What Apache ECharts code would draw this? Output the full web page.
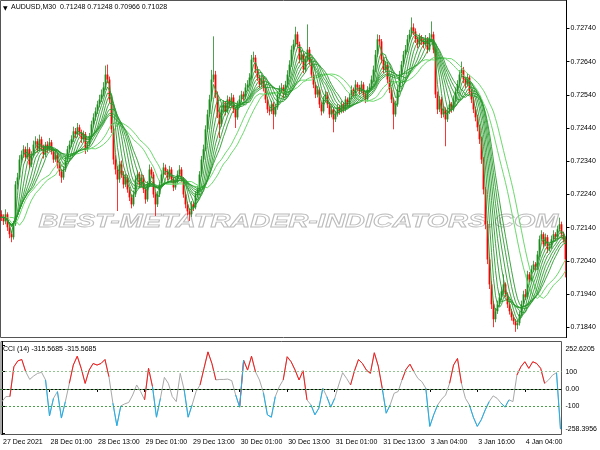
<!DOCTYPE html>
<html>
<head>
<meta charset="utf-8">
<script src="https://cdn.jsdelivr.net/npm/echarts@6/dist/echarts.min.js"></script>
<style>
  html, body { margin: 0; padding: 0; background: #fff; }
  #main { width: 600px; height: 450px; }
</style>
</head>
<body>
<div id="main"></div>
<script>
// AUDUSD M30, one entry per bar
const opens = [
  0.72180,0.72171,0.72159,0.72180,0.72141,0.72120,0.72111,0.72150,0.72270,0.72291,
  0.72345,0.72360,0.72376,0.72352,0.72376,0.72330,0.72360,0.72390,0.72400,0.72376,
  0.72406,0.72382,0.72360,0.72390,0.72376,0.72397,0.72370,0.72345,0.72360,0.72330,
  0.72309,0.72291,0.72315,0.72345,0.72376,0.72390,0.72406,0.72430,0.72421,0.72442,
  0.72427,0.72406,0.72421,0.72376,0.72390,0.72412,0.72451,0.72472,0.72490,0.72511,
  0.72526,0.72541,0.72562,0.72601,0.72586,0.72526,0.72436,0.72345,0.72315,0.72285,
  0.72330,0.72300,0.72270,0.72291,0.72255,0.72231,0.72210,0.72240,0.72285,0.72300,
  0.72270,0.72291,0.72255,0.72225,0.72270,0.72315,0.72300,0.72240,0.72210,0.72240,
  0.72270,0.72300,0.72321,0.72309,0.72291,0.72315,0.72285,0.72261,0.72279,0.72300,
  0.72315,0.72285,0.72240,0.72210,0.72189,0.72180,0.72210,0.72201,0.72240,0.72255,
  0.72300,0.72345,0.72376,0.72436,0.72481,0.72526,0.72586,0.72601,0.72541,0.72481,
  0.72451,0.72496,0.72511,0.72490,0.72526,0.72511,0.72532,0.72496,0.72472,0.72511,
  0.72526,0.72541,0.72532,0.72562,0.72571,0.72592,0.72646,0.72652,0.72616,0.72592,
  0.72571,0.72586,0.72562,0.72526,0.72496,0.72490,0.72511,0.72481,0.72502,0.72541,
  0.72556,0.72562,0.72541,0.72571,0.72601,0.72631,0.72676,0.72692,0.72722,0.72692,
  0.72646,0.72661,0.72616,0.72646,0.72676,0.72640,0.72601,0.72571,0.72541,0.72556,
  0.72511,0.72490,0.72526,0.72541,0.72511,0.72481,0.72496,0.72466,0.72481,0.72502,
  0.72490,0.72511,0.72496,0.72526,0.72511,0.72532,0.72556,0.72541,0.72571,0.72562,
  0.72550,0.72571,0.72541,0.72526,0.72556,0.72562,0.72586,0.72616,0.72661,0.72707,
  0.72701,0.72646,0.72616,0.72631,0.72586,0.72556,0.72526,0.72481,0.72511,0.72556,
  0.72601,0.72631,0.72661,0.72676,0.72707,0.72722,0.72743,0.72731,0.72707,0.72692,
  0.72713,0.72701,0.72692,0.72707,0.72676,0.72713,0.72722,0.72676,0.72541,0.72496,
  0.72526,0.72481,0.72496,0.72466,0.72490,0.72511,0.72496,0.72526,0.72550,0.72571,
  0.72601,0.72616,0.72586,0.72571,0.72592,0.72550,0.72526,0.72496,0.72472,0.72442,
  0.72406,0.72345,0.72255,0.72150,0.72044,0.71969,0.71909,0.71864,0.71888,0.71909,
  0.71930,0.71948,0.71969,0.71939,0.71909,0.71888,0.71870,0.71858,0.71846,0.71852,
  0.71879,0.71909,0.71939,0.71930,0.71999,0.71984,0.72014,0.72029,0.72020,0.72059,
  0.72105,0.72120,0.72090,0.72111,0.72075,0.72081,0.72105,0.72120,0.72111,0.72135,
  0.72150,0.72120,0.72105
];
const closes = [
  0.72171,0.72159,0.72180,0.72141,0.72120,0.72111,0.72150,0.72270,0.72291,0.72345,
  0.72360,0.72376,0.72352,0.72376,0.72330,0.72360,0.72390,0.72400,0.72376,0.72406,
  0.72382,0.72360,0.72390,0.72376,0.72397,0.72370,0.72345,0.72360,0.72330,0.72309,
  0.72291,0.72315,0.72345,0.72376,0.72390,0.72406,0.72430,0.72421,0.72442,0.72427,
  0.72406,0.72421,0.72376,0.72390,0.72412,0.72451,0.72472,0.72490,0.72511,0.72526,
  0.72541,0.72562,0.72601,0.72586,0.72526,0.72436,0.72345,0.72315,0.72285,0.72330,
  0.72300,0.72270,0.72291,0.72255,0.72231,0.72210,0.72240,0.72285,0.72300,0.72270,
  0.72291,0.72255,0.72225,0.72270,0.72315,0.72300,0.72240,0.72210,0.72240,0.72270,
  0.72300,0.72321,0.72309,0.72291,0.72315,0.72285,0.72261,0.72279,0.72300,0.72315,
  0.72285,0.72240,0.72210,0.72189,0.72180,0.72210,0.72201,0.72240,0.72255,0.72300,
  0.72345,0.72376,0.72436,0.72481,0.72526,0.72586,0.72601,0.72541,0.72481,0.72451,
  0.72496,0.72511,0.72490,0.72526,0.72511,0.72532,0.72496,0.72472,0.72511,0.72526,
  0.72541,0.72532,0.72562,0.72571,0.72592,0.72646,0.72652,0.72616,0.72592,0.72571,
  0.72586,0.72562,0.72526,0.72496,0.72490,0.72511,0.72481,0.72502,0.72541,0.72556,
  0.72562,0.72541,0.72571,0.72601,0.72631,0.72676,0.72692,0.72722,0.72692,0.72646,
  0.72661,0.72616,0.72646,0.72676,0.72640,0.72601,0.72571,0.72541,0.72556,0.72511,
  0.72490,0.72526,0.72541,0.72511,0.72481,0.72496,0.72466,0.72481,0.72502,0.72490,
  0.72511,0.72496,0.72526,0.72511,0.72532,0.72556,0.72541,0.72571,0.72562,0.72550,
  0.72571,0.72541,0.72526,0.72556,0.72562,0.72586,0.72616,0.72661,0.72707,0.72701,
  0.72646,0.72616,0.72631,0.72586,0.72556,0.72526,0.72481,0.72511,0.72556,0.72601,
  0.72631,0.72661,0.72676,0.72707,0.72722,0.72743,0.72731,0.72707,0.72692,0.72713,
  0.72701,0.72692,0.72707,0.72676,0.72713,0.72722,0.72676,0.72541,0.72496,0.72526,
  0.72481,0.72496,0.72466,0.72490,0.72511,0.72496,0.72526,0.72550,0.72571,0.72601,
  0.72616,0.72586,0.72571,0.72592,0.72550,0.72526,0.72496,0.72472,0.72442,0.72406,
  0.72345,0.72255,0.72150,0.72044,0.71969,0.71909,0.71864,0.71888,0.71909,0.71930,
  0.71948,0.71969,0.71939,0.71909,0.71888,0.71870,0.71858,0.71846,0.71852,0.71879,
  0.71909,0.71939,0.71930,0.71999,0.71984,0.72014,0.72029,0.72020,0.72059,0.72105,
  0.72120,0.72090,0.72111,0.72075,0.72081,0.72105,0.72120,0.72111,0.72135,0.72150,
  0.72120,0.72105,0.72044
];
const highs = [
  0.72192,0.72180,0.72195,0.72186,0.72150,0.72128,0.72160,0.72280,0.72305,0.72358,
  0.72372,0.72388,0.72384,0.72395,0.72382,0.72370,0.72402,0.72415,0.72408,0.72420,
  0.72414,0.72390,0.72398,0.72400,0.72410,0.72404,0.72378,0.72372,0.72366,0.72338,
  0.72316,0.72325,0.72355,0.72386,0.72402,0.72418,0.72444,0.72440,0.72455,0.72450,
  0.72435,0.72432,0.72428,0.72400,0.72425,0.72462,0.72484,0.72502,0.72522,0.72540,
  0.72556,0.72578,0.72628,0.72631,0.72595,0.72535,0.72445,0.72358,0.72325,0.72340,
  0.72342,0.72310,0.72302,0.72298,0.72262,0.72240,0.72252,0.72296,0.72312,0.72308,
  0.72302,0.72298,0.72262,0.72280,0.72330,0.72322,0.72308,0.72248,0.72250,0.72282,
  0.72312,0.72335,0.72330,0.72316,0.72326,0.72322,0.72292,0.72290,0.72312,0.72328,
  0.72322,0.72292,0.72248,0.72218,0.72198,0.72220,0.72218,0.72250,0.72266,0.72310,
  0.72356,0.72390,0.72448,0.72495,0.72540,0.72615,0.72716,0.72612,0.72550,0.72490,
  0.72508,0.72524,0.72520,0.72538,0.72534,0.72545,0.72540,0.72502,0.72522,0.72538,
  0.72552,0.72550,0.72575,0.72584,0.72605,0.72660,0.72670,0.72660,0.72625,0.72600,
  0.72598,0.72594,0.72570,0.72534,0.72505,0.72522,0.72518,0.72512,0.72552,0.72568,
  0.72575,0.72570,0.72582,0.72614,0.72644,0.72688,0.72706,0.72745,0.72730,0.72700,
  0.72672,0.72668,0.72656,0.72752,0.72684,0.72648,0.72608,0.72578,0.72566,0.72562,
  0.72518,0.72536,0.72552,0.72548,0.72518,0.72506,0.72502,0.72492,0.72512,0.72510,
  0.72522,0.72518,0.72536,0.72532,0.72544,0.72568,0.72562,0.72584,0.72578,0.72570,
  0.72582,0.72578,0.72548,0.72566,0.72574,0.72598,0.72628,0.72675,0.72722,0.72720,
  0.72708,0.72654,0.72642,0.72638,0.72594,0.72562,0.72532,0.72522,0.72566,0.72612,
  0.72642,0.72672,0.72690,0.72720,0.72736,0.72773,0.72755,0.72740,0.72716,0.72725,
  0.72720,0.72710,0.72720,0.72714,0.72726,0.72761,0.72730,0.72682,0.72550,0.72536,
  0.72534,0.72508,0.72502,0.72500,0.72522,0.72518,0.72538,0.72562,0.72584,0.72614,
  0.72640,0.72624,0.72594,0.72604,0.72600,0.72558,0.72534,0.72504,0.72480,0.72450,
  0.72414,0.72352,0.72262,0.72160,0.72052,0.71978,0.71918,0.71898,0.71920,0.71942,
  0.71960,0.71999,0.71975,0.71945,0.71915,0.71895,0.71878,0.71865,0.71862,0.71888,
  0.71920,0.71950,0.71955,0.72010,0.72006,0.72026,0.72040,0.72036,0.72070,0.72116,
  0.72132,0.72126,0.72122,0.72118,0.72092,0.72116,0.72132,0.72126,0.72146,0.72170,
  0.72158,0.72128,0.72112
];
const lows = [
  0.72160,0.72148,0.72150,0.72130,0.72108,0.72096,0.72104,0.72145,0.72255,0.72285,
  0.72333,0.72350,0.72340,0.72345,0.72318,0.72322,0.72352,0.72380,0.72366,0.72370,
  0.72372,0.72348,0.72352,0.72365,0.72370,0.72360,0.72335,0.72338,0.72318,0.72296,
  0.72275,0.72284,0.72308,0.72338,0.72366,0.72382,0.72398,0.72410,0.72412,0.72415,
  0.72395,0.72398,0.72362,0.72368,0.72384,0.72405,0.72442,0.72462,0.72482,0.72502,
  0.72518,0.72535,0.72555,0.72575,0.72515,0.72425,0.72330,0.72300,0.72190,0.72275,
  0.72290,0.72258,0.72262,0.72245,0.72220,0.72198,0.72204,0.72232,0.72278,0.72260,
  0.72262,0.72244,0.72212,0.72218,0.72262,0.72290,0.72230,0.72175,0.72202,0.72232,
  0.72262,0.72292,0.72298,0.72282,0.72285,0.72276,0.72250,0.72254,0.72272,0.72294,
  0.72276,0.72230,0.72198,0.72176,0.72160,0.72172,0.72190,0.72195,0.72232,0.72248,
  0.72294,0.72338,0.72370,0.72428,0.72474,0.72520,0.72578,0.72530,0.72470,0.72410,
  0.72444,0.72486,0.72478,0.72484,0.72500,0.72505,0.72485,0.72440,0.72465,0.72505,
  0.72518,0.72522,0.72526,0.72552,0.72565,0.72585,0.72638,0.72605,0.72582,0.72560,
  0.72562,0.72550,0.72515,0.72485,0.72478,0.72482,0.72436,0.72474,0.72495,0.72534,
  0.72545,0.72530,0.72535,0.72562,0.72594,0.72624,0.72668,0.72685,0.72682,0.72635,
  0.72638,0.72605,0.72608,0.72640,0.72630,0.72590,0.72560,0.72530,0.72532,0.72500,
  0.72478,0.72484,0.72518,0.72500,0.72470,0.72472,0.72427,0.72458,0.72474,0.72480,
  0.72484,0.72486,0.72490,0.72502,0.72505,0.72526,0.72532,0.72535,0.72552,0.72540,
  0.72544,0.72532,0.72515,0.72520,0.72548,0.72555,0.72578,0.72608,0.72654,0.72690,
  0.72635,0.72605,0.72608,0.72575,0.72545,0.72515,0.72436,0.72474,0.72504,0.72548,
  0.72594,0.72624,0.72652,0.72668,0.72700,0.72715,0.72720,0.72696,0.72680,0.72685,
  0.72690,0.72680,0.72685,0.72665,0.72670,0.72705,0.72665,0.72530,0.72482,0.72488,
  0.72470,0.72472,0.72385,0.72458,0.72482,0.72486,0.72490,0.72518,0.72544,0.72564,
  0.72594,0.72575,0.72560,0.72565,0.72540,0.72515,0.72485,0.72460,0.72430,0.72392,
  0.72332,0.72240,0.72135,0.72030,0.71955,0.71895,0.71840,0.71855,0.71880,0.71902,
  0.71922,0.71940,0.71930,0.71898,0.71878,0.71860,0.71848,0.71826,0.71834,0.71845,
  0.71872,0.71902,0.71922,0.71925,0.71975,0.71978,0.72006,0.72010,0.72012,0.72050,
  0.72098,0.72080,0.72084,0.72064,0.72068,0.72076,0.72098,0.72100,0.72104,0.72128,
  0.72110,0.72095,0.71990
];

const cciStep = 2;
const cciValues = [
  -73, -44, -44, 128, 162, 170, 99, 55, 75, 90,
  96, 52, -155, -54, -15, -168, -73, 32, 138, 189,
  119, 32, 109, 147, 138, 147, 170, 71, -82, -212,
  -98, -86, -78, -35, 23, -15, -63, 119, 13, -163,
  -54, 67, 32, -44, -73, 90, -6, -163, -92, -15,
  23, 119, 214, 147, 52, 55, 55, 57, 48, -35,
  -105, 166, 109, 189, 99, 52, -21, -149, -163, -44,
  13, 52, 186, 157, 109, 52, 105, -63, -92, -149,
  -111, 4, -44, -105, -54, 23, 94, 61, 23, 105,
  170, 147, 109, 90, 209, 132, 4, -140, -92, -25,
  -15, 52, 113, 143, 99, 61, 42, 4, -216, -149,
  -92, -59, -35, 32, 138, 176, 32, -54, -92, -163,
  -216, -178, -121, -73, -40, -54, -82, -105, -63, -73,
  80, 128, 157, 119, 157, 147, 119, 32, 52, 80,
  94, -232
];

const priceTicks = [0.71840, 0.71940, 0.72040, 0.72140, 0.72240, 0.72340, 0.72440, 0.72540, 0.72640, 0.72740];
const cciTicks = [252.6205, 100, 0, -100, -258.3956];
const cciTickTexts = ['252.6205', '100', '0.00', '-100', '-258.3956'];
const labelBars = [0, 24, 48, 72, 96, 120, 144, 168, 192, 216, 240, 264];
const labelTexts = ['27 Dec 2021', '28 Dec 01:00', '28 Dec 13:00', '29 Dec 01:00', '29 Dec 13:00',
  '30 Dec 01:00', '30 Dec 13:00', '31 Dec 01:00', '31 Dec 13:00', '3 Jan 04:00', '3 Jan 16:00', '4 Jan 04:00'];

// moving-average ribbon periods
const fastPeriods = [3, 5, 7, 9, 11, 13, 15, 17];
const slowPeriod = 24;
const slowShifts = [1, 4];

const BULL = '#1f8a1f';
const BEAR = '#ff0000';
const FONT = '"Liberation Sans", Arial, sans-serif';
const N = closes.length;

function sma(src, n) {
  return src.map((_, i) => {
    const from = Math.max(0, i - n + 1);
    let s = 0;
    for (let j = from; j <= i; j++) s += src[j];
    return +(s / (i - from + 1)).toFixed(6);
  });
}
function shift(arr, s) {
  return arr.map((_, i) => (i - s >= 0 ? arr[i - s] : null));
}

const cats = closes.map((_, i) => i);
const bars = closes.map((c, i) => [i, opens[i], c, lows[i], highs[i]]);

const cciPts = cciValues.map((v, k) => [k * cciStep, v]);
function colored(test) {
  const out = [];
  for (let k = 0; k < cciPts.length - 1; k++) {
    const a = cciPts[k], b = cciPts[k + 1];
    if (test(a[1]) || test(b[1])) out.push(a, b, [b[0], null]);
  }
  return out;
}

const maSeries = [];
slowShifts.forEach(s => {
  maSeries.push({
    type: 'line', xAxisIndex: 0, yAxisIndex: 0, data: shift(sma(closes, slowPeriod), s),
    showSymbol: false, silent: true, z: 3, lineStyle: { width: 1, color: '#6ad96a' }
  });
});
fastPeriods.forEach(p => {
  maSeries.push({
    type: 'line', xAxisIndex: 0, yAxisIndex: 0, data: sma(closes, p),
    showSymbol: false, silent: true, z: 4, lineStyle: { width: 0.9, color: '#27992a' }
  });
});

function renderCandle(params, api) {
  const i = api.value(0);
  const o = api.value(1), c = api.value(2), l = api.value(3), h = api.value(4);
  const pO = api.coord([i, o]), pC = api.coord([i, c]);
  const pL = api.coord([i, l]), pH = api.coord([i, h]);
  const x = pO[0];
  const col = c >= o ? BULL : BEAR;
  const top = Math.min(pO[1], pC[1]);
  const bot = Math.max(pO[1], pC[1]);
  return {
    type: 'group',
    children: [
      { type: 'line', shape: { x1: x, y1: pH[1], x2: x, y2: pL[1] }, style: { stroke: col, lineWidth: 0.8 } },
      { type: 'rect', shape: { x: x - 0.9, y: top, width: 1.8, height: Math.max(1, bot - top) }, style: { fill: col } }
    ]
  };
}

const chart = echarts.init(document.getElementById('main'));
chart.setOption({
  animation: false,
  backgroundColor: '#ffffff',
  textStyle: { fontFamily: FONT },
  grid: [
    { left: 0.5, top: 0.5, width: 566, height: 337, show: true, borderColor: '#555', borderWidth: 1 },
    { left: 0.5, top: 341.5, width: 566, height: 93, show: true, borderColor: '#555', borderWidth: 1 }
  ],
  xAxis: [
    {
      type: 'category', gridIndex: 0, data: cats, boundaryGap: true,
      axisLine: { show: false }, axisTick: { show: false }, axisLabel: { show: false }, splitLine: { show: false }
    },
    {
      type: 'value', gridIndex: 1, min: -0.5, max: N - 0.5,
      axisLine: { show: true, lineStyle: { color: '#000', width: 1 } },
      axisTick: { show: true, customValues: labelBars, length: 3, lineStyle: { color: '#000' } },
      axisLabel: {
        customValues: labelBars, fontSize: 7, color: '#000', align: 'left', margin: 4,
        padding: [0, 0, 0, 1], fontFamily: FONT,
        formatter: v => labelTexts[labelBars.indexOf(v)]
      },
      splitLine: { show: false }
    }
  ],
  yAxis: [
    {
      type: 'value', gridIndex: 0, position: 'right', min: 0.71809, max: 0.72824,
      axisLine: { show: true, lineStyle: { color: '#000' } },
      axisTick: { show: true, customValues: priceTicks, length: 3, lineStyle: { color: '#000' } },
      axisLabel: { customValues: priceTicks, fontSize: 7, color: '#000', margin: 4, fontFamily: FONT,
        formatter: v => v.toFixed(5) },
      splitLine: { show: false }
    },
    {
      type: 'value', gridIndex: 1, position: 'right', min: -263, max: 274,
      axisLine: { show: true, lineStyle: { color: '#000' } },
      axisTick: { show: true, customValues: cciTicks, length: 3, lineStyle: { color: '#000' } },
      axisLabel: {
        customValues: cciTicks, fontSize: 7, color: '#000', margin: 4, fontFamily: FONT,
        formatter: v => {
          const t = cciTickTexts[cciTicks.indexOf(v)];
          if (v === cciTicks[0]) return '{top|' + t + '}';
          if (v === cciTicks[4]) return '{bot|' + t + '}';
          return t;
        },
        rich: {
          top: { fontSize: 7, color: '#000', fontFamily: FONT, padding: [8, 0, 0, 0] },
          bot: { fontSize: 7, color: '#000', fontFamily: FONT, padding: [0, 0, 10, 0] }
        }
      },
      splitLine: { show: false }
    }
  ],
  graphic: [
    {
      type: 'text', left: 38, top: 213, z: 0, silent: true,
      style: {
        text: 'BEST-METATRADER-INDICATORS.COM',
        font: 'italic bold 18px "Liberation Sans", sans-serif',
        fill: 'rgba(255,255,255,0)', stroke: '#bcbcbc', lineWidth: 0.8
      },
      scaleX: 1.53
    },
    { type: 'text', left: 3, top: 5, style: { text: '▼', font: '6px "DejaVu Sans"', fill: '#000' } },
    { type: 'text', left: 11, top: 4, style: { text: 'AUDUSD,M30  0.71248 0.71248 0.70966 0.71028', font: '7px ' + FONT, fill: '#000' } },
    { type: 'text', left: 3, top: 346, style: { text: 'CCI (14) -315.5685 -315.5685', font: '7px ' + FONT, fill: '#000' } }
  ],
  series: [
    {
      type: 'custom', xAxisIndex: 0, yAxisIndex: 0, data: bars, z: 2,
      encode: { x: 0, y: [1, 2, 3, 4] }, renderItem: renderCandle
    },
    ...maSeries,
    {
      type: 'line', name: 'CCI', xAxisIndex: 1, yAxisIndex: 1, data: cciPts, showSymbol: false, z: 3,
      lineStyle: { width: 1, color: '#a8a8a8' },
      markLine: {
        silent: true, symbol: ['none', 'none'], label: { show: false },
        data: [
          { yAxis: 100, lineStyle: { color: '#8fc48f', type: [2, 2], width: 1 } },
          { yAxis: 0, lineStyle: { color: '#3c9a3c', type: [2, 2], width: 1 } },
          { yAxis: -100, lineStyle: { color: '#4aa04a', type: [2, 2], width: 1 } }
        ]
      }
    },
    {
      type: 'line', xAxisIndex: 1, yAxisIndex: 1, data: colored(v => v > 100), showSymbol: false, z: 4,
      connectNulls: false, lineStyle: { width: 1, color: '#ff1a1a' }
    },
    {
      type: 'line', xAxisIndex: 1, yAxisIndex: 1, data: colored(v => v < -100), showSymbol: false, z: 4,
      connectNulls: false, lineStyle: { width: 1, color: '#1ab2f0' }
    }
  ]
});
</script>
</body>
</html>
